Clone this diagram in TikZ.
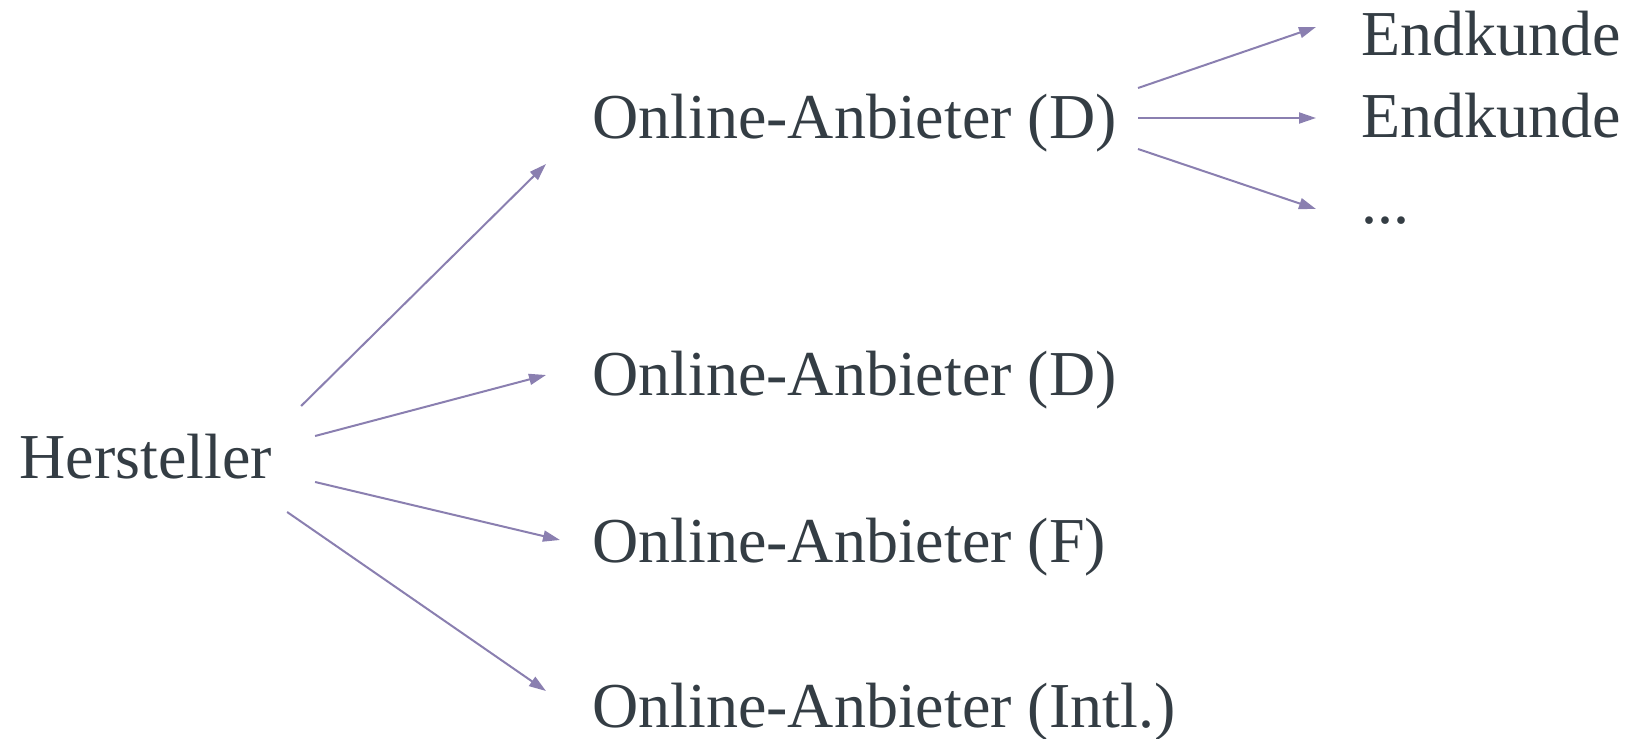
\documentclass[tikz,border=0pt]{standalone}
\usepackage{fontspec}
\setmainfont{Liberation Serif}
\usepackage{tikz}
\usetikzlibrary{arrows.meta}
\definecolor{txtgray}{HTML}{343D44}
\definecolor{arrowpurple}{HTML}{8A7FB0}

\begin{document}
\begin{tikzpicture}[
  x=0.5pt, y=-0.5pt,
  font=\fontsize{32}{38}\selectfont,
  item/.style={text=txtgray, inner sep=0pt, anchor=base west, text height=22pt, text depth=6pt},
  arrow/.style={-{Triangle[length=8.5pt, width=5.5pt]}, arrowpurple, line width=1pt}
]
\useasboundingbox (0,0) rectangle (1639,739);

% Left: manufacturer
\node[item] (her) at (19,478) {Hersteller};

% Center: online shops
\node[item] (oa1) at (592,138) {Online-Anbieter (D)};
\node[item] (oa2) at (592,395) {Online-Anbieter (D)};
\node[item] (oa3) at (592,562) {Online-Anbieter (F)};
\node[item] (oa4) at (592,727) {Online-Anbieter (Intl.)};

% Right: customers
\node[item] (ek1) at (1361,55) {Endkunde};
\node[item] (ek2) at (1361,137) {Endkunde};
\node[item] (more) at (1361,223) {...};

% Manufacturer to shops
\draw[arrow] ([xshift=14.5pt,yshift=28pt]her.east) -- ([xshift=-23pt,yshift=-21pt]oa1.west);
\draw[arrow] ([xshift=21.5pt,yshift=13pt]her.east) -- ([xshift=-23pt,yshift=2pt]oa2.west);
\draw[arrow] ([xshift=21.5pt,yshift=-10pt]her.east) -- ([xshift=-16pt,yshift=3pt]oa3.west);
\draw[arrow] ([xshift=7.5pt,yshift=-25pt]her.east) -- ([xshift=-23pt,yshift=10pt]oa4.west);

% Shop to customers
\draw[arrow] ([xshift=10.5pt,yshift=17pt]oa1.east) -- ([xshift=-22.5pt,yshift=6pt]ek1.west);
\draw[arrow] ([xshift=10.5pt,yshift=2pt]oa1.east) -- ([xshift=-22.5pt,yshift=1.5pt]ek2.west);
\draw[arrow] ([xshift=10.5pt,yshift=-13.5pt]oa1.east) -- ([xshift=-22.5pt,yshift=-1pt]more.west);

\end{tikzpicture}
\end{document}
